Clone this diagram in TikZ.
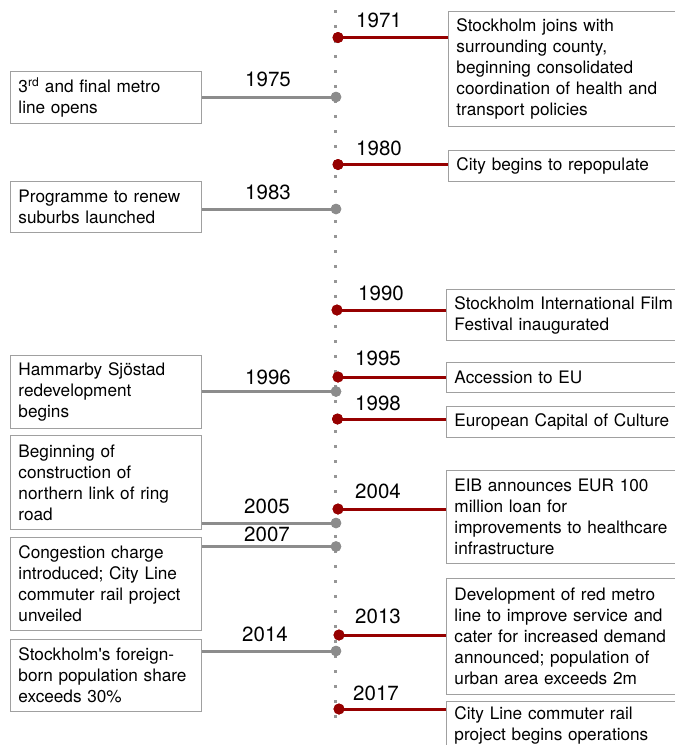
\documentclass[tikz,border=0pt]{standalone}
\usepackage{fontspec}
\setmainfont{TeX Gyre Heros}
\definecolor{evred}{RGB}{150,0,0}
\definecolor{evgray}{RGB}{140,140,140}
\definecolor{boxgray}{RGB}{160,160,160}
\definecolor{axisgray}{RGB}{150,150,150}
\begin{document}
\begin{tikzpicture}[x=1pt,y=-1pt,
  evbox/.style={draw=boxgray,line width=0.9pt,fill=white,anchor=north west,
    align=left,inner xsep=8pt,inner ysep=0pt,
    font=\fontsize{17.2}{21}\selectfont},
  rbox/.style={evbox,text width=250pt},
  lbox/.style={evbox,text width=175pt},
  rdot/.style={circle,fill=evred,inner sep=0pt,minimum size=11pt},
  gdot/.style={circle,fill=evgray,inner sep=0pt,minimum size=10.5pt},
  rline/.style={draw=evred,line width=3pt},
  gline/.style={draw=evgray,line width=3pt},
  yearlbl/.style={font=\fontsize{20.5}{24}\selectfont,inner sep=0pt}]
\useasboundingbox (0,0) rectangle (675,745);
\clip (0,0) rectangle (675,745);
\fill[white] (0,0) rectangle (675,745);
% axis
\coordinate (axtop) at (335.5,10);
\coordinate (axbot) at (335.5,720);
\draw[axisgray,line width=3pt,dash pattern=on 3pt off 12pt] (axtop) -- (axbot);

% right boxes
\node[rbox,minimum height=115pt] (b1971) at (448,11) {Stockholm joins with\\surrounding county,\\beginning consolidated\\coordination of health and\\transport policies};
\node[rbox,minimum height=31pt] (b1980) at (448,150) {City begins to repopulate};
\node[rbox,minimum height=51pt] (b1990) at (446,289) {Stockholm International Film\\Festival inaugurated};
\node[rbox,minimum height=30pt] (b1995) at (446,362) {Accession to EU};
\node[rbox,minimum height=31pt] (b1998) at (446,406) {European Capital of Culture};
\node[rbox,minimum height=93pt] (b2004) at (446,470) {EIB announces EUR 100\\million loan for\\improvements to healthcare\\infrastructure};
\node[rbox,minimum height=116pt] (b2013) at (446,578) {Development of red metro\\line to improve service and\\cater for increased demand\\announced; population of\\urban area exceeds 2m};
\node[rbox,minimum height=48pt] (b2017) at (446,701) {City Line commuter rail\\project begins operations};

% left boxes
\node[lbox,minimum height=52pt] (b1975) at (10,71) {3\textsuperscript{rd} and final metro\\line opens};
\node[lbox,minimum height=51pt] (b1983) at (10,181) {Programme to renew\\suburbs launched};
\node[lbox,minimum height=73pt] (b1996) at (10,355) {Hammarby Sjöstad\\redevelopment\\begins};
\node[lbox,minimum height=94pt] (b2005) at (10,435) {Beginning of\\construction of\\northern link of ring\\road};
\node[lbox,minimum height=93pt] (b2007) at (10,537) {Congestion charge\\introduced; City Line\\commuter rail project\\unveiled};
\node[lbox,minimum height=72pt] (b2014) at (10,639) {Stockholm\textquotesingle s foreign-\\born population share\\exceeds 30\%};

% dots
\node[rdot] (d1971) at (338,37.5) {};
\node[rdot] (d1980) at (338,164.5) {};
\node[rdot] (d1990) at (337,310) {};
\node[rdot] (d1995) at (338,377) {};
\node[rdot] (d1998) at (337.5,419) {};
\node[rdot] (d2004) at (338,509) {};
\node[rdot] (d2013) at (339,635) {};
\node[rdot] (d2017) at (339,709) {};
\node[gdot] (d1975) at (336,97) {};
\node[gdot] (d1983) at (336,209) {};
\node[gdot] (d1996) at (336,391.5) {};
\node[gdot] (d2005) at (336,523) {};
\node[gdot] (d2007) at (336,546.5) {};
\node[gdot] (d2014) at (336,651) {};

% connectors
\foreach \y in {1971,1980,1990,1995,1998,2004,2013,2017}
  \path[rline] (d\y.center) -- (b\y.west |- d\y.center);
\foreach \y in {1975,1983,1996,2005,2007,2014}
  \path[gline] (d\y.center) -- (b\y.east |- d\y.center);
% dots on top of connectors
\foreach \y in {1971,1980,1990,1995,1998,2004,2013,2017}
  \fill[evred] (d\y.center) circle (5.5pt);
\foreach \y in {1975,1983,1996,2005,2007,2014}
  \fill[evgray] (d\y.center) circle (5.25pt);

% years
\node[yearlbl] (y1971) at (379,20.5) {1971};
\node[yearlbl] (y1975) at (268,79) {1975};
\node[yearlbl] (y1980) at (379,148) {1980};
\node[yearlbl] (y1983) at (268,192) {1983};
\node[yearlbl] (y1990) at (381,293) {1990};
\node[yearlbl] (y1995) at (378,358) {1995};
\node[yearlbl] (y1996) at (268,377) {1996};
\node[yearlbl] (y1998) at (378,403.5) {1998};
\node[yearlbl] (y2004) at (378,491.5) {2004};
\node[yearlbl] (y2005) at (267,506) {2005};
\node[yearlbl] (y2007) at (267,534) {2007};
\node[yearlbl] (y2013) at (378,616) {2013};
\node[yearlbl] (y2014) at (265,634) {2014};
\node[yearlbl] (y2017) at (376,693) {2017};
\end{tikzpicture}
\end{document}
